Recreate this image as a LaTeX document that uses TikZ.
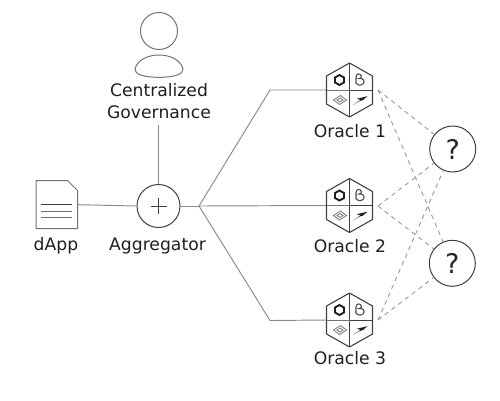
\documentclass[tikz,border=0pt]{standalone}
\usepackage{fontspec}
\setmainfont{DejaVu Sans}
\tikzset{
  conn/.style={draw=black!46,line width=0.95pt},
  dash conn/.style={draw=black!40,line width=0.9pt,dash pattern=on 4.5pt off 4pt},
  outline/.style={draw=black!75,line width=1pt},
  soft/.style={draw=black!55,line width=1pt},
  lbl/.style={font=\fontsize{17.2}{22}\selectfont,text=black!88,inner sep=0pt,align=center},
  round node/.style={circle,outline,fill=white,inner sep=0pt},
  hexhold/.style={inner sep=0pt,minimum width=46pt,minimum height=54pt},
  qmark/.style={inner sep=0pt,font=\fontsize{27}{27}\selectfont,text=black!85},
  pics/oracle/.style={code={
    \draw[outline,line join=round,line width=1.1pt] (0,-27)--(23,-14)--(23,14)--(0,27)--(-23,14)--(-23,-14)--cycle;
    \draw[outline] (0,-27)--(0,27);
    \draw[outline] (0,0)--(23,0);
    \draw[soft] (-23,0)--(0,0);
    \draw[black!88,line width=1.9pt] (-10,-15)--(-5.5,-12.5)--(-5.5,-7.5)--(-10,-5)--(-14.5,-7.5)--(-14.5,-12.5)--cycle;
    \draw[black!70,line width=1.1pt,line cap=round] (6.5,-7) -- (6.5,-13) .. controls (6.5,-17) and (11.5,-17) .. (12,-13.5) .. controls (12,-12.5) and (11,-11.5) .. (9.5,-11.5) .. controls (14,-12) and (15.5,-9) .. (14,-6.5) .. controls (12,-4) and (8,-4.5) .. (6.5,-7);
    \draw[black!50,line width=0.9pt] (-16,10)--(-9,5.5)--(-3,10)--(-10,14.5)--cycle;
    \draw[black!50,line width=0.9pt] (-12.5,10)--(-9.2,8)--(-6.5,10)--(-9.8,12)--cycle;
    \fill[black!88] (3.5,15) -- (11,9.8) -- (7,8.8) -- (18,6.2) -- (13.5,10) -- (9.5,11.3) -- cycle;
  }}
}
\begin{document}
\begin{tikzpicture}[x=1pt,y=-1pt]
\useasboundingbox (0,0) rectangle (500,400);
% anchors
\node[hexhold] (o1) at (349.5,90) {};
\node[hexhold] (o2) at (349.5,205.5) {};
\node[hexhold] (o3) at (349.5,320) {};
\coordinate (hub) at (199,206);
\coordinate (bend1) at (270,90);
\coordinate (bend3) at (270,320.5);
\coordinate (d1) at (378,90);
\coordinate (d2) at (378,206);
\coordinate (d3) at (378,320);
\node[round node,minimum size=43pt] (agg) at (158.5,206) {};
\node[round node,minimum size=46pt] (q1) at (452.7,149) {};
\node[round node,minimum size=46pt] (q2) at (452.3,263.3) {};
\node[inner sep=0pt,minimum width=42pt,minimum height=48pt] (doc) at (57,204.7) {};
\node[lbl] (gov) at (159,101) {Centralized\\Governance};
\coordinate (govb) at (158.5,125);
% connectors
\draw[conn] (doc.east) -- (agg.west);
\draw[conn] (govb) -- (agg.north);
\draw[conn] (agg.east) -- (hub);
\draw[conn] (hub) -- (bend1) -- (o1.west);
\draw[conn] (hub) -- (o2.west);
\draw[conn] (hub) -- (bend3) -- (o3.west);
\draw[dash conn] (d1) -- (q1);
\draw[dash conn] (d1) -- (q2);
\draw[dash conn] (d2) -- (q1);
\draw[dash conn] (d2) -- (q2);
\draw[dash conn] (d3) -- (q1);
\draw[dash conn] (d3) -- (q2);
% question marks
\node[qmark] (qm1) at (q1) {?};
\node[qmark] (qm2) at (q2) {?};
% aggregator plus
\draw[outline,line width=0.8pt] (150.5,206)--(166.5,206) (158.5,198)--(158.5,214);
% document
\draw[soft,line join=round] (36,180.7)--(67.7,180.7)--(77.7,190.7)--(77.7,228.7)--(36,228.7)--cycle;
\draw[outline,line width=0.8pt] (41.3,204)--(71.7,204);
\draw[soft] (41.3,211)--(71.7,211);
\draw[soft] (41.3,217.7)--(71.7,217.7);
% person
\node[circle,soft,inner sep=0pt,minimum size=37pt] (head) at (159,31) {};
\draw[soft] (135,69) .. controls (137,60) and (148,55) .. (159,55) .. controls (170,55) and (181,60) .. (183,69) .. controls (183.5,74) and (175,77.3) .. (159,77.3) .. controls (143,77.3) and (134.5,74) .. (135,69) -- cycle;
% oracles
\pic at (o1) {oracle};
\pic at (o2) {oracle};
\pic at (o3) {oracle};
% labels
\node[lbl] (ldapp) at (56,246) {dApp};
\node[lbl] (lagg) at (157.5,246) {Aggregator};
\node[lbl] (l1) at (350,131) {Oracle 1};
\node[lbl] (l2) at (350,246) {Oracle 2};
\node[lbl] (l3) at (350,358) {Oracle 3};
\end{tikzpicture}
\end{document}
